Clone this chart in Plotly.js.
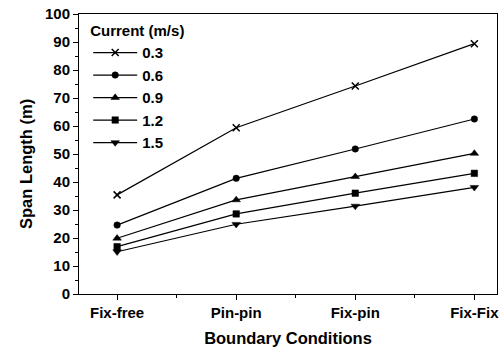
<!DOCTYPE html>
<html>
<head>
<meta charset="utf-8">
<script src="https://cdn.plot.ly/plotly-3.0.1.min.js"></script>
<style>
html, body { margin: 0; padding: 0; background: #ffffff; }
#chart { width: 504px; height: 350px; }
</style>
</head>
<body>
<div id="chart"></div>
<script>
// ---- data ----
const conditions = ["Fix-free", "Pin-pin", "Fix-pin", "Fix-Fix"];
const currentLabels = ["0.3", "0.6", "0.9", "1.2", "1.5"];
const span_03 = [35.4, 59.4, 74.3, 89.4];
const span_06 = [24.6, 41.3, 51.8, 62.5];
const span_09 = [19.9, 33.6, 41.9, 50.2];
const span_12 = [16.9, 28.6, 36.0, 43.1];
const span_15 = [15.1, 24.9, 31.4, 38.1];
const yTicks = [0, 10, 20, 30, 40, 50, 60, 70, 80, 90, 100];

const seriesValues = [span_03, span_06, span_09, span_12, span_15];
const symbols = ["x-thin", "circle", "triangle-up", "square", "triangle-down"];
const sizes = [7, 6.5, 7.5, 6.5, 7.5];
const xIdx = conditions.map((c, i) => i);

const FONT = "Liberation Sans, Arial, sans-serif";

const traces = seriesValues.map((vals, k) => ({
  type: "scatter",
  mode: "lines+markers",
  name: currentLabels[k],
  x: xIdx,
  y: vals,
  line: { color: "#000000", width: 1.2 },
  marker: {
    symbol: symbols[k],
    size: sizes[k],
    color: "#000000",
    line: { color: "#000000", width: k === 0 ? 1.5 : 0.5 }
  }
}));

const layout = {
  width: 504,
  height: 350,
  margin: { l: 79, r: 7, t: 14, b: 56 },
  paper_bgcolor: "#ffffff",
  plot_bgcolor: "#ffffff",
  font: { family: FONT, color: "#000000", size: 15 },
  showlegend: true,
  legend: {
    x: 0.022,
    y: 0.99,
    xanchor: "left",
    yanchor: "top",
    bgcolor: "rgba(0,0,0,0)",
    borderwidth: 0,
    itemwidth: 44,
    font: { family: FONT, size: 15, color: "#000000", weight: "bold" },
    title: { text: "Current (m/s)", font: { family: FONT, size: 15, color: "#000000", weight: "bold" } }
  },
  xaxis: {
    range: [-0.32, 3.19],
    tickmode: "array",
    tickvals: xIdx,
    ticktext: conditions,
    ticks: "outside",
    ticklen: 5,
    tickwidth: 1,
    tickcolor: "#000000",
    minor: { tickmode: "array", tickvals: [0.5, 1.5, 2.5], ticks: "outside", ticklen: 3, tickcolor: "#000000" },
    showline: true,
    linecolor: "#000000",
    linewidth: 1,
    mirror: true,
    showgrid: false,
    zeroline: false,
    tickfont: { family: FONT, size: 15, color: "#000000", weight: "bold" },
    title: { text: "Boundary Conditions", standoff: 12, font: { family: FONT, size: 16.5, color: "#000000", weight: "bold" } }
  },
  yaxis: {
    range: [0, 100],
    tickmode: "array",
    tickvals: yTicks,
    ticks: "outside",
    ticklen: 5,
    tickwidth: 1,
    tickcolor: "#000000",
    minor: { dtick: 5, ticks: "outside", ticklen: 3, tickcolor: "#000000" },
    showline: true,
    linecolor: "#000000",
    linewidth: 1,
    mirror: true,
    showgrid: false,
    zeroline: false,
    tickfont: { family: FONT, size: 15, color: "#000000", weight: "bold" }
  },
  annotations: [{
    text: "Span Length (m)",
    textangle: -90,
    xref: "paper", yref: "paper",
    x: (26 - 79) / 418, y: 1 - (164 - 14) / 280,
    xanchor: "center", yanchor: "middle",
    showarrow: false,
    font: { family: FONT, size: 16.5, color: "#000000", weight: "bold" }
  }]
};

Plotly.newPlot("chart", traces, layout, { staticPlot: true, displayModeBar: false });
</script>
</body>
</html>
